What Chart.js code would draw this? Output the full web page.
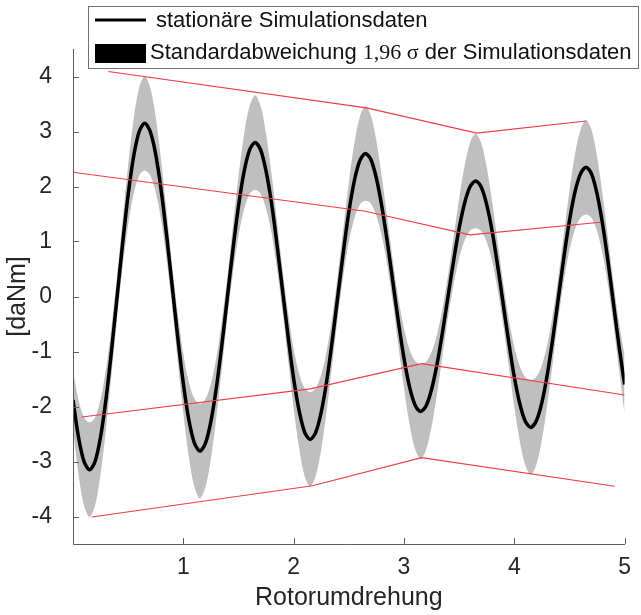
<!DOCTYPE html>
<html>
<head>
<meta charset="utf-8">
<script src="https://cdn.jsdelivr.net/npm/chart.js@4.4.0/dist/chart.umd.min.js"></script>
<style>
  html, body { margin: 0; padding: 0; background: #fff; }
</style>
</head>
<body>
<canvas id="myChart" width="641" height="615"></canvas>
<script>
// Rotorumdrehung (x), sampled every 0.05
const turns = [
  0, 0.05, 0.1, 0.15, 0.2, 0.25, 0.3, 0.35, 0.4, 0.45,
  0.5, 0.55, 0.6, 0.65, 0.7, 0.75, 0.8, 0.85, 0.9, 0.95,
  1, 1.05, 1.1, 1.15, 1.2, 1.25, 1.3, 1.35, 1.4, 1.45,
  1.5, 1.55, 1.6, 1.65, 1.7, 1.75, 1.8, 1.85, 1.9, 1.95,
  2, 2.05, 2.1, 2.15, 2.2, 2.25, 2.3, 2.35, 2.4, 2.45,
  2.5, 2.55, 2.6, 2.65, 2.7, 2.75, 2.8, 2.85, 2.9, 2.95,
  3, 3.05, 3.1, 3.15, 3.2, 3.25, 3.3, 3.35, 3.4, 3.45,
  3.5, 3.55, 3.6, 3.65, 3.7, 3.75, 3.8, 3.85, 3.9, 3.95,
  4, 4.05, 4.1, 4.15, 4.2, 4.25, 4.3, 4.35, 4.4, 4.45,
  4.5, 4.55, 4.6, 4.65, 4.7, 4.75, 4.8, 4.85, 4.9, 4.95,
  5
];

// stationaere Simulationsdaten [daNm]
const meanTorque = [
  -1.88, -2.56, -3.00, -3.15, -3.00, -2.55, -1.85, -0.97, 0.00, 0.97,
  1.85, 2.55, 3.00, 3.15, 3.00, 2.58, 1.92, 1.09, 0.17, -0.75,
  -1.58, -2.24, -2.66, -2.81, -2.67, -2.27, -1.65, -0.87, 0.00, 0.86,
  1.64, 2.26, 2.66, 2.80, 2.67, 2.28, 1.69, 0.93, 0.10, -0.73,
  -1.49, -2.08, -2.47, -2.60, -2.47, -2.10, -1.53, -0.80, 0.00, 0.80,
  1.53, 2.10, 2.47, 2.60, 2.49, 2.15, 1.63, 0.98, 0.26, -0.47,
  -1.12, -1.64, -1.97, -2.09, -1.99, -1.69, -1.23, -0.64, 0.01, 0.65,
  1.24, 1.70, 2.00, 2.10, 1.99, 1.67, 1.18, 0.55, -0.14, -0.83,
  -1.46, -1.95, -2.27, -2.38, -2.26, -1.93, -1.41, -0.75, -0.02, 0.72,
  1.38, 1.90, 2.23, 2.35, 2.23, 1.87, 1.32, 0.63, -0.14, -0.91,
  -1.60
];

// half width of the 1,96 sigma band [daNm]
const bandWidth = [
  0.54, 0.68, 0.80, 0.86, 0.80, 0.68, 0.54, 0.43, 0.38, 0.43,
  0.54, 0.68, 0.80, 0.86, 0.80, 0.68, 0.54, 0.43, 0.38, 0.43,
  0.54, 0.68, 0.80, 0.86, 0.80, 0.68, 0.54, 0.43, 0.38, 0.43,
  0.54, 0.68, 0.80, 0.86, 0.80, 0.68, 0.54, 0.43, 0.38, 0.43,
  0.54, 0.68, 0.80, 0.86, 0.80, 0.68, 0.54, 0.43, 0.38, 0.43,
  0.54, 0.68, 0.80, 0.86, 0.80, 0.68, 0.54, 0.43, 0.38, 0.43,
  0.54, 0.68, 0.80, 0.86, 0.80, 0.68, 0.54, 0.43, 0.38, 0.43,
  0.54, 0.68, 0.80, 0.86, 0.80, 0.68, 0.54, 0.43, 0.38, 0.43,
  0.54, 0.68, 0.80, 0.86, 0.80, 0.68, 0.54, 0.43, 0.38, 0.43,
  0.54, 0.68, 0.80, 0.86, 0.80, 0.68, 0.54, 0.43, 0.38, 0.43,
  0.54
];

// red envelope lines
const outerTopX = [0.32, 2.66, 3.66, 4.65];
const outerTopY = [4.09, 3.43, 2.97, 3.19];
const innerTopX = [0, 2.65, 3.6, 4.78];
const innerTopY = [2.26, 1.55, 1.12, 1.35];
const innerBottomX = [0.08, 2.15, 3.16, 5.0];
const innerBottomY = [-2.19, -1.68, -1.22, -1.79];
const outerBottomX = [0.17, 2.17, 3.16, 4.91];
const outerBottomY = [-4.01, -3.44, -2.93, -3.45];

const xTicks = [1, 2, 3, 4, 5];
const yTicks = [-4, -3, -2, -1, 0, 1, 2, 3, 4];
const legendText = ['stationäre Simulationsdaten', 'Standardabweichung ', '1,96 σ', ' der Simulationsdaten'];

const pts = (xs, ys) => xs.map((x, i) => ({ x: x, y: ys[i] }));
const upper = turns.map((x, i) => ({ x: x, y: meanTorque[i] + bandWidth[i] }));
const lower = turns.map((x, i) => ({ x: x, y: meanTorque[i] - bandWidth[i] }));

const sans = '"Liberation Sans", Arial, sans-serif';
const red = 'rgb(238,60,72)';

function redLine(data) {
    return { data: data, borderColor: red, borderWidth: 1.1, pointRadius: 0, tension: 0, fill: false, order: 0 };
}

const axesAndLegend = {
    id: 'axesAndLegend',
    afterDraw(chart) {
        const { ctx, chartArea: a, scales } = chart;
        ctx.save();
        // axes with inward ticks
        ctx.strokeStyle = '#5c5c5c';
        ctx.lineWidth = 1;
        ctx.beginPath();
        ctx.moveTo(a.left + 0.5, a.top);
        ctx.lineTo(a.left + 0.5, a.bottom + 0.5);
        ctx.lineTo(a.right + 0.5, a.bottom + 0.5);
        xTicks.forEach(v => {
            const px = Math.round(scales.x.getPixelForValue(v)) + 0.5;
            ctx.moveTo(px, a.bottom);
            ctx.lineTo(px, a.bottom - 6);
        });
        yTicks.forEach(v => {
            const py = Math.round(scales.y.getPixelForValue(v)) + 0.5;
            ctx.moveTo(a.left, py);
            ctx.lineTo(a.left + 6, py);
        });
        ctx.stroke();

        // legend box
        ctx.fillStyle = '#fff';
        ctx.fillRect(88, 6, 550, 62);
        ctx.strokeStyle = '#707070';
        ctx.strokeRect(88.5, 6.5, 550, 62);
        ctx.strokeStyle = '#000';
        ctx.lineWidth = 3;
        ctx.beginPath();
        ctx.moveTo(95, 20);
        ctx.lineTo(146, 20);
        ctx.stroke();
        ctx.fillStyle = '#000';
        ctx.fillRect(95, 44, 51, 19);

        ctx.fillStyle = '#111';
        ctx.textBaseline = 'middle';
        ctx.font = '22px ' + sans;
        ctx.fillText(legendText[0], 156, 21);
        let tx = 150;
        ctx.fillText(legendText[1], tx, 53);
        tx += ctx.measureText(legendText[1]).width;
        ctx.font = '22px "Liberation Serif", "Times New Roman", serif';
        ctx.fillText(legendText[2], tx, 53);
        tx += ctx.measureText(legendText[2]).width;
        ctx.font = '22px ' + sans;
        ctx.fillText(legendText[3], tx, 53);
        ctx.restore();
    }
};

const ctx = document.getElementById('myChart').getContext('2d');
const myChart = new Chart(ctx, {
    type: 'line',
    data: {
        datasets: [
            redLine(pts(outerTopX, outerTopY)),
            redLine(pts(innerTopX, innerTopY)),
            redLine(pts(innerBottomX, innerBottomY)),
            redLine(pts(outerBottomX, outerBottomY)),
            {
                data: pts(turns, meanTorque),
                borderColor: '#000',
                borderWidth: 3.5,
                pointRadius: 0,
                tension: 0.3,
                fill: false,
                order: 1
            },
            {
                data: upper,
                borderWidth: 0,
                borderColor: 'rgba(0,0,0,0)',
                backgroundColor: 'rgb(191,191,191)',
                pointRadius: 0,
                tension: 0.3,
                fill: { target: 6 },
                order: 2
            },
            {
                data: lower,
                borderWidth: 0,
                borderColor: 'rgba(0,0,0,0)',
                pointRadius: 0,
                tension: 0.3,
                fill: false,
                order: 3
            }
        ]
    },
    options: {
        responsive: false,
        animation: false,
        devicePixelRatio: 1,
        layout: { padding: { top: 49, right: 9, left: 0, bottom: 0 } },
        plugins: {
            legend: { display: false },
            tooltip: { enabled: false }
        },
        scales: {
            x: {
                type: 'linear',
                min: 0,
                max: 5,
                grid: { display: false, drawTicks: false },
                border: { display: false },
                afterBuildTicks: s => { s.ticks = xTicks.map(v => ({ value: v })); },
                afterFit: s => { s.height = 71; },
                ticks: { padding: 10, color: '#262626', font: { family: sans, size: 23 } },
                title: {
                    display: true,
                    text: 'Rotorumdrehung',
                    color: '#262626',
                    font: { family: sans, size: 25 },
                    padding: { top: 0, bottom: 2 }
                }
            },
            y: {
                min: -4.5,
                max: 4.5,
                grid: { display: false, drawTicks: false },
                border: { display: false },
                afterBuildTicks: s => { s.ticks = yTicks.map(v => ({ value: v })); },
                afterFit: s => { s.width = 73; },
                ticks: { padding: 21, color: '#262626', font: { family: sans, size: 23 } },
                title: {
                    display: true,
                    text: '[daNm]',
                    color: '#262626',
                    font: { family: sans, size: 25 },
                    padding: { top: 3, bottom: 0 }
                }
            }
        }
    },
    plugins: [axesAndLegend]
});
</script>
</body>
</html>
